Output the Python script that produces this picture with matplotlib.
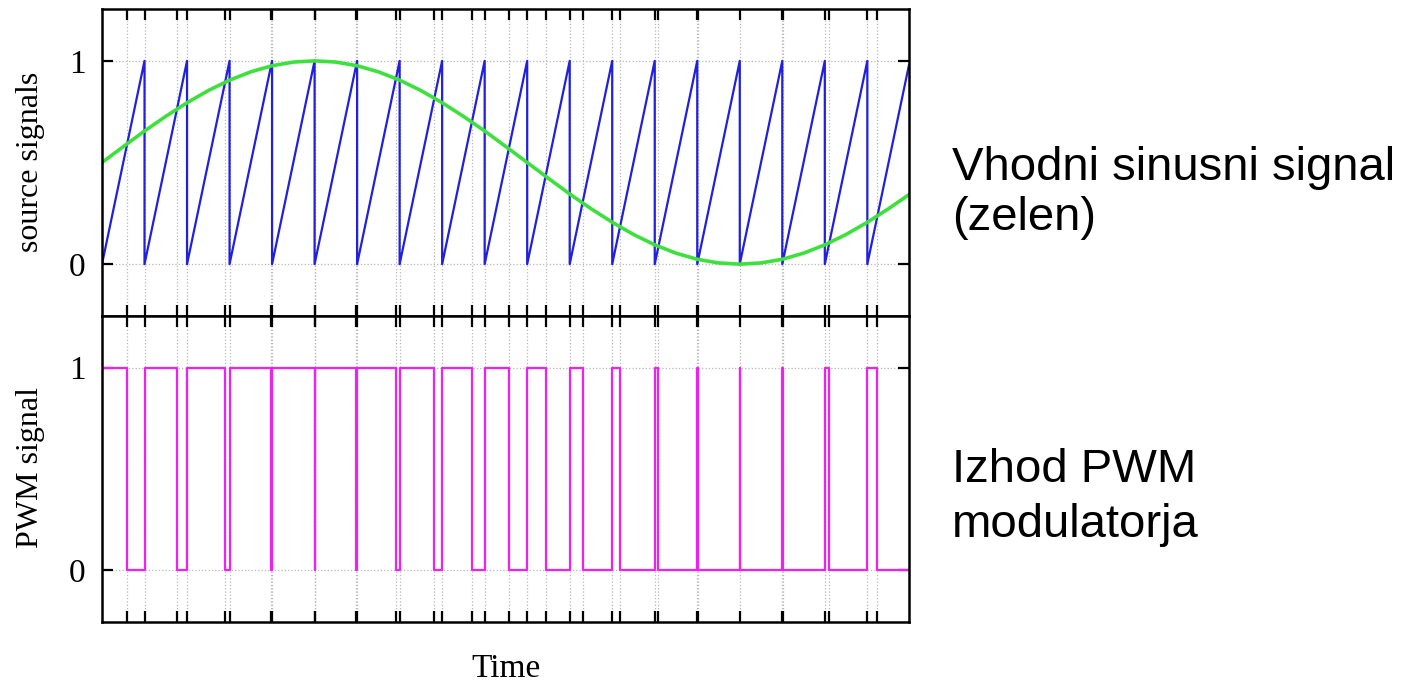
import numpy as np
import matplotlib.pyplot as plt

# carrier sawtooth: ramps 0 -> 1 and resets at these times
saw_resets = [1, 2, 3, 4, 5, 6, 7, 8, 9, 10, 11, 12, 13, 14, 15, 16, 17, 18]
t_end = 18.98
saw_end = 0.98

# input sine (green), read every half carrier period
sine_t = np.arange(0, 19.5, 0.5)
sine_y = [0.500, 0.578, 0.655, 0.727, 0.794, 0.854, 0.905, 0.946, 0.976, 0.994,
          1.000, 0.994, 0.976, 0.946, 0.905, 0.854, 0.794, 0.727, 0.655, 0.578,
          0.500, 0.422, 0.345, 0.273, 0.206, 0.146, 0.095, 0.054, 0.024, 0.006,
          0.000, 0.006, 0.024, 0.054, 0.095, 0.146, 0.206, 0.273, 0.345]

# PWM output goes low where ramp meets the sine, high again at each reset
pwm_fall = [0.593, 1.762, 2.894, 3.974, 4.998, 5.977, 6.913, 7.816, 8.699, 9.568,
            10.432, 11.301, 12.183, 13.087, 14.023, 15.0, 16.026, 17.105, 18.237]

# build the polylines
saw_t, saw_y = [0], [0]
for r in saw_resets:
    saw_t += [r, r]
    saw_y += [1, 0]
saw_t.append(t_end)
saw_y.append(saw_end)

pwm_t, pwm_y = [0], [1]
for i, f in enumerate(pwm_fall):
    pwm_t += [f, f]
    pwm_y += [1, 0]
    if i < len(saw_resets):
        r = saw_resets[i]
        pwm_t += [r, r]
        pwm_y += [0, 1]
pwm_t.append(t_end)
pwm_y.append(0)

edges = sorted(set(saw_resets) | set(pwm_fall))

W, H = 1410, 682
fig = plt.figure(figsize=(W / 100, H / 100), dpi=100)
left, right = 102 / W, 909 / W
ax1 = fig.add_axes([left, 1 - 316 / H, right - left, (316 - 9) / H])
ax2 = fig.add_axes([left, 1 - 622 / H, right - left, (622 - 316) / H])

ax1.plot(saw_t, saw_y, color='#2020dd', lw=1.6)
ax1.plot(sine_t, sine_y, color='#3ee03e', lw=2.6)
ax2.plot(pwm_t, pwm_y, color='#ee22ee', lw=1.6)

serif = 'Liberation Serif'
for ax in (ax1, ax2):
    ax.set_xlim(0, t_end)
    ax.set_ylim(-0.255, 1.255)
    ax.set_xticks(edges)
    ax.set_xticklabels([])
    ax.set_yticks([0, 1])
    ax.set_yticklabels(['0', '1'], fontfamily=serif, fontsize=24)
    ax.tick_params(direction='in', top=True, right=True, length=8, width=1.6,
                   pad=12)
    ax.grid(True, color='0.72', linestyle=':', linewidth=0.9)
    for s in ax.spines.values():
        s.set_linewidth(1.8)

fig.text(31 / W, 1 - 162 / H, 'source signals', rotation=90, ha='center',
         va='center', fontfamily=serif, fontsize=23)
fig.text(31 / W, 1 - 468 / H, 'PWM signal', rotation=90, ha='center',
         va='center', fontfamily=serif, fontsize=23)
fig.text(505.5 / W, 1 - 677 / H, 'Time', ha='center', va='baseline',
         fontfamily=serif, fontsize=24)

sans = 'Liberation Sans'
for txt, y in [('Vhodni sinusni signal', 180), ('(zelen)', 230),
               ('Izhod PWM', 482), ('modulatorja', 537)]:
    fig.text(952 / W, 1 - y / H, txt, ha='left', va='baseline',
             fontfamily=sans, fontsize=34)

fig.savefig('out.png', dpi=100)
